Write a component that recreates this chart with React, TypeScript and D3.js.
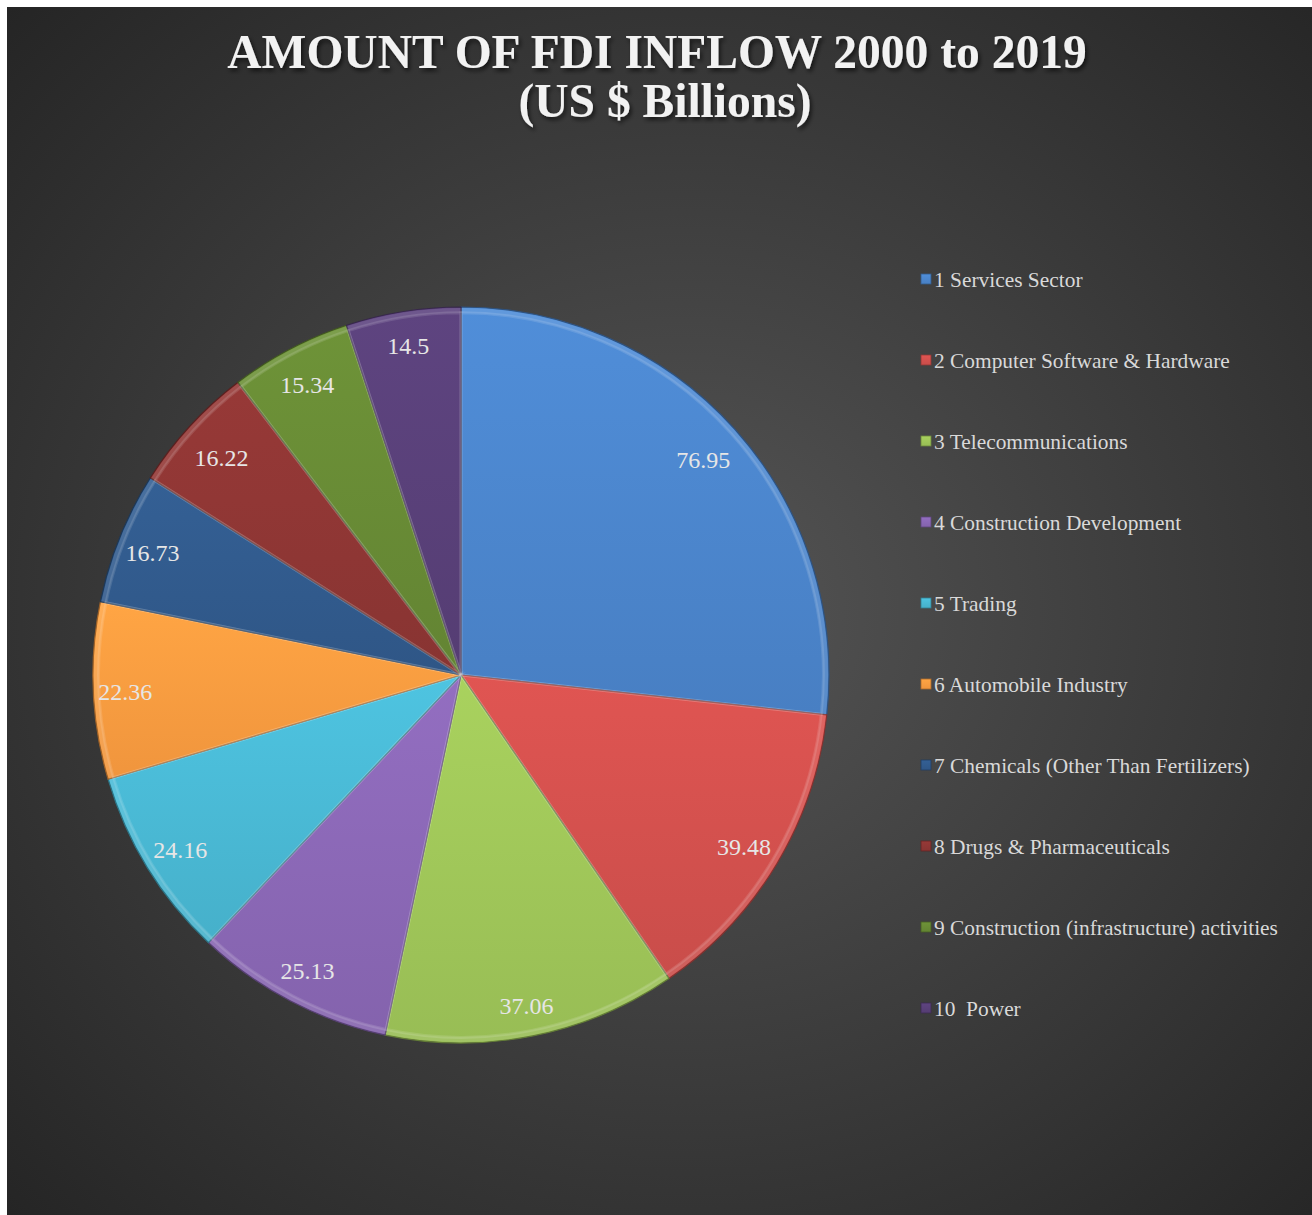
import React, { useEffect, useRef } from "react";
import * as d3 from "d3";

const sectors = [
  "1 Services Sector",
  "2 Computer Software & Hardware",
  "3 Telecommunications",
  "4 Construction Development",
  "5 Trading",
  "6 Automobile Industry",
  "7 Chemicals (Other Than Fertilizers)",
  "8 Drugs & Pharmaceuticals",
  "9 Construction (infrastructure) activities",
  "10  Power",
];
const inflow = [76.95, 39.48, 37.06, 25.13, 24.16, 22.36, 16.73, 16.22, 15.34, 14.5];
const colors = [
  "#4a83c9",
  "#cf4f4c",
  "#9cc257",
  "#8866b2",
  "#48b5d0",
  "#f7993f",
  "#30598a",
  "#8c3533",
  "#668834",
  "#573f76",
];

const W = 1305;
const H = 1208;
const serif = "'Liberation Serif', 'Times New Roman', serif";

const App = () => {
  const svgRef = useRef(null);

  useEffect(() => {
    const svg = d3.select(svgRef.current);
    svg.selectAll("*").remove();

    const defs = svg.append("defs");
    const bg = defs
      .append("radialGradient")
      .attr("id", "bg")
      .attr("cx", "0.52")
      .attr("cy", "0.5")
      .attr("r", "0.72");
    bg.append("stop").attr("offset", "0%").attr("stop-color", "#555555");
    bg.append("stop").attr("offset", "100%").attr("stop-color", "#252525");

    const shadow = defs.append("filter").attr("id", "shadow");
    shadow
      .append("feDropShadow")
      .attr("dx", 2)
      .attr("dy", 3)
      .attr("stdDeviation", 2)
      .attr("flood-color", "#000")
      .attr("flood-opacity", 0.6);

    colors.forEach((c, i) => {
      const g = defs
        .append("linearGradient")
        .attr("id", `sl${i}`)
        .attr("x1", 0)
        .attr("y1", 0)
        .attr("x2", 0)
        .attr("y2", 1);
      g.append("stop").attr("offset", "0%").attr("stop-color", d3.color(c)!.brighter(0.22).formatHex());
      g.append("stop").attr("offset", "100%").attr("stop-color", d3.color(c)!.darker(0.08).formatHex());
    });

    svg.append("rect").attr("width", W).attr("height", H).attr("fill", "url(#bg)");

    // title
    const title = svg
      .append("text")
      .attr("text-anchor", "middle")
      .attr("font-family", serif)
      .attr("font-weight", "bold")
      .attr("font-size", 47.5)
      .attr("fill", "#f2f2f2")
      .attr("filter", "url(#shadow)");
    title.append("tspan").attr("x", 650).attr("y", 61).text("AMOUNT OF FDI INFLOW 2000 to 2019");
    title.append("tspan").attr("x", 658).attr("y", 110).text("(US $ Billions)");

    // pie
    const cx = 454;
    const cy = 668;
    const r = 368;
    const pie = d3.pie<number>().sort(null).value((d) => d);
    const arcs = pie(inflow);
    const arc = d3.arc<d3.PieArcDatum<number>>().innerRadius(0).outerRadius(r);

    const g = svg.append("g").attr("transform", `translate(${cx},${cy})`);
    g.selectAll("path.slice")
      .data(arcs)
      .enter()
      .append("path")
      .attr("class", "slice")
      .attr("d", arc)
      .attr("fill", (d, i) => `url(#sl${i})`)
      .attr("stroke", (d, i) => d3.color(colors[i])!.darker(1.3).formatHex())
      .attr("stroke-width", 1.2)
      .attr("stroke-linejoin", "round");

    // bevel highlight on the rim and edges
    g.selectAll("path.bevel")
      .data(arcs)
      .enter()
      .append("path")
      .attr("class", "bevel")
      .attr("d", d3.arc<d3.PieArcDatum<number>>().innerRadius(r - 6).outerRadius(r - 1))
      .attr("fill", "#ffffff")
      .attr("opacity", 0.1);
    g.selectAll("path.edge")
      .data(arcs)
      .enter()
      .append("path")
      .attr("class", "edge")
      .attr("d", d3.arc<d3.PieArcDatum<number>>().innerRadius(0).outerRadius(r - 2))
      .attr("fill", "none")
      .attr("stroke", "#ffffff")
      .attr("stroke-opacity", 0.12)
      .attr("stroke-width", 3)
      .attr("transform", "scale(0.99)");

    // label distance from centre, roughly like Excel's best fit
    const labelPos = (d: d3.PieArcDatum<number>) => {
      const a = (d.startAngle + d.endAngle) / 2;
      const dist = 324 + 12 * Math.abs(Math.cos(2 * a));
      return [dist * Math.sin(a), -dist * Math.cos(a) + 2];
    };

    g.selectAll("text.lbl")
      .data(arcs)
      .enter()
      .append("text")
      .attr("class", "lbl")
      .attr("transform", (d) => `translate(${labelPos(d)})`)
      .attr("text-anchor", "middle")
      .attr("dy", "0.35em")
      .attr("font-family", serif)
      .attr("font-size", 24)
      .attr("fill", "#e6e6e6")
      .text((d) => String(d.data));

    // legend
    const leg = svg.append("g").attr("transform", "translate(914,272)");
    const rows = leg
      .selectAll("g")
      .data(sectors)
      .enter()
      .append("g")
      .attr("transform", (d, i) => `translate(0,${i * 81})`);
    rows
      .append("rect")
      .attr("x", 0)
      .attr("y", -5)
      .attr("width", 10)
      .attr("height", 10)
      .attr("fill", (d, i) => `url(#sl${i})`)
      .attr("stroke", (d, i) => d3.color(colors[i])!.darker(1).formatHex())
      .attr("stroke-width", 0.8);
    rows
      .append("text")
      .attr("x", 13)
      .attr("y", 0)
      .attr("dy", "0.35em")
      .attr("font-family", serif)
      .attr("font-size", 21.4)
      .attr("fill", "#d9d9d9")
      .style("white-space", "pre")
      .text((d) => d);
  }, []);

  return (
    <svg
      ref={svgRef}
      width={W}
      height={H}
      style={{ position: "absolute", left: 7, top: 7, display: "block" }}
    ></svg>
  );
};

export default App;
